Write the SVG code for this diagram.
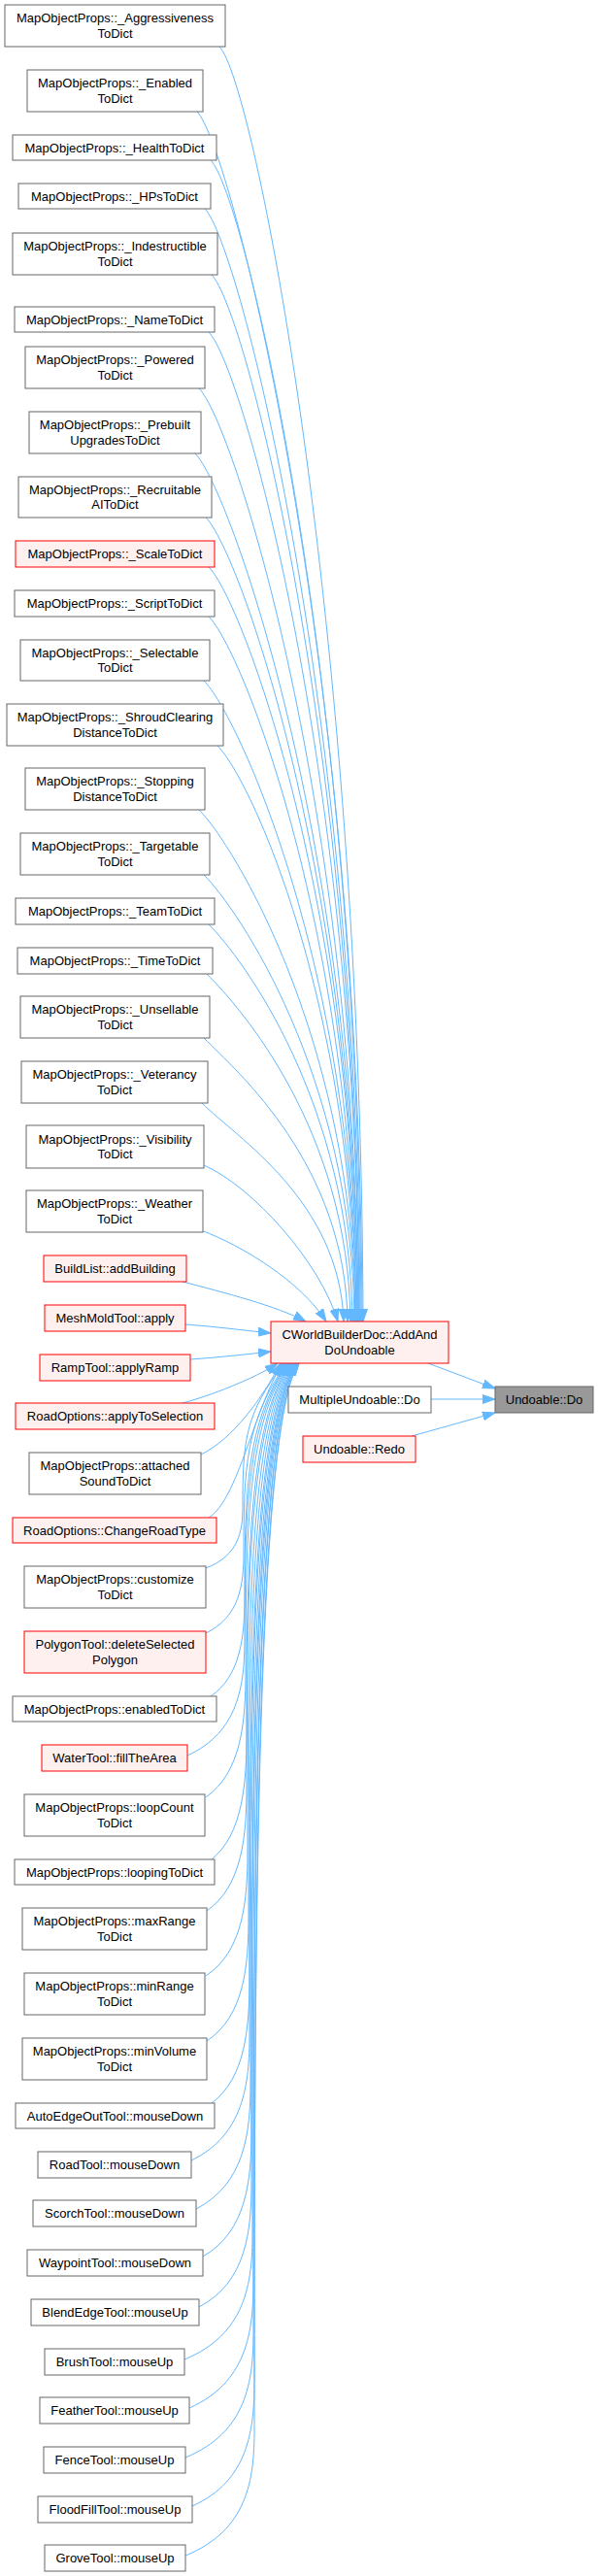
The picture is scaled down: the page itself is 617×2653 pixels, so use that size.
<svg xmlns="http://www.w3.org/2000/svg" width="617" height="2653" viewBox="0 0 617 2653">
<style>
.n rect{fill:#ffffff;stroke:#666666;stroke-width:1}
.r rect{fill:#fff0f0;stroke:#ff0000;stroke-width:1}
.g rect{fill:#999999;stroke:#666666;stroke-width:1}
text{font-family:"Liberation Sans",Arial,sans-serif;font-size:13px;fill:#000000;text-anchor:middle}
#edges path{fill:none;stroke:#63b8ff;stroke-width:1;marker-end:url(#ah)}
</style>
<defs>
<marker id="ah" markerUnits="userSpaceOnUse" markerWidth="14" markerHeight="10" refX="13" refY="5" orient="auto">
<path d="M0,0.5 L13,5 L0,9.5 z" fill="#63b8ff" stroke="#63b8ff" stroke-width="1"/>
</marker>
</defs>
<rect width="617" height="2653" fill="#ffffff"/>
<g id="edges">
<path d="M226,48 C261,83 372,639 374,1361"/>
<path d="M203,115 C238,150 371,676 373,1361"/>
<path d="M217,165 C252,200 370,703 372,1361"/>
<path d="M211,215 C246,250 369,731 371,1361"/>
<path d="M218,283 C253,318 368,768 370,1361"/>
<path d="M215,342 C250,377 368,801 370,1361"/>
<path d="M205,400 C240,435 367,832 369,1361"/>
<path d="M201,467 C236,502 367,869 369,1361"/>
<path d="M212,533 C247,568 366,906 368,1361"/>
<path d="M215,584 C250,619 366,934 368,1361"/>
<path d="M215,635 C250,670 365,962 367,1361"/>
<path d="M210,701 C245,736 365,998 367,1361"/>
<path d="M224,768 C259,803 364,1035 366,1361"/>
<path d="M205,834 C240,869 364,1071 366,1361"/>
<path d="M210,901 C245,936 363,1108 365,1361"/>
<path d="M215,952 C250,987 361,1136 363,1361"/>
<path d="M213,1003 C248,1038 359,1164 361,1361"/>
<path d="M210,1069 C245,1104 356,1200 358,1361"/>
<path d="M208,1136 C243,1171 350,1237 354,1361"/>
<path d="M210,1200 C260,1222 330,1300 348,1361"/>
<path d="M207,1267 C250,1283 310,1320 336,1361"/>
<path d="M188,1320 C230,1331 285,1345 315,1361"/>
<path d="M191,1364 C220,1366 250,1370 279,1373"/>
<path d="M196,1400 C225,1398 252,1395 279,1392"/>
<path d="M188,1445 C215,1438 262,1420 286,1404"/>
<path d="M207,1498 C240,1482 270,1440 289,1404"/>
<path d="M215,1563 C245,1545 262,1450 291,1404"/>
<path d="M212,1615 C246,1602 250,1577 250,1552 C250,1485 252,1456 293,1404"/>
<path d="M212,1682 C247,1665 251,1632 251,1599 C251,1511 253,1464 295,1404"/>
<path d="M217,1747 C248,1726 252,1685 252,1644 C252,1536 254,1464 296,1404"/>
<path d="M193,1808 C246,1784 252,1735 252,1687 C252,1560 254,1464 297,1404"/>
<path d="M212,1851 C249,1825 253,1773 253,1721 C253,1578 255,1464 298,1404"/>
<path d="M218,1915 C250,1889 254,1837 254,1785 C254,1614 256,1464 299,1404"/>
<path d="M213,1968 C250,1942 254,1890 254,1838 C254,1643 256,1464 300,1404"/>
<path d="M212,2035 C251,2009 255,1957 255,1905 C255,1680 257,1464 301,1404"/>
<path d="M213,2102 C252,2076 256,2024 256,1972 C256,1716 258,1464 302,1404"/>
<path d="M218,2166 C253,2140 257,2088 257,2036 C257,1752 259,1464 303,1404"/>
<path d="M197,2225 C251,2199 257,2147 257,2095 C257,1784 259,1464 304,1404"/>
<path d="M202,2275 C252,2249 258,2197 258,2145 C258,1812 260,1464 305,1404"/>
<path d="M209,2324 C254,2298 259,2246 259,2194 C259,1838 261,1464 305,1404"/>
<path d="M205,2376 C254,2350 259,2298 259,2246 C259,1867 261,1464 306,1404"/>
<path d="M190,2430 C253,2404 260,2352 260,2300 C260,1897 262,1464 306,1404"/>
<path d="M195,2480 C254,2454 261,2402 261,2350 C261,1924 263,1464 307,1404"/>
<path d="M191,2531 C254,2505 261,2453 261,2401 C261,1952 263,1464 307,1404"/>
<path d="M198,2581 C256,2555 262,2503 262,2451 C262,1980 264,1464 308,1404"/>
<path d="M191,2632 C255,2606 262,2554 262,2502 C262,2008 264,1464 308,1404"/>
<path d="M441,1404 L510,1430"/>
<path d="M444,1441 L510,1441"/>
<path d="M424,1479 L510,1455"/>
</g>
<g id="node1" class="n"><rect x="5" y="5" width="227" height="43"/><text x="118.5" y="23">MapObjectProps::_Aggressiveness</text><text x="118.5" y="38.5">ToDict</text></g>
<g id="node2" class="n"><rect x="28" y="72" width="181" height="43"/><text x="118.5" y="90">MapObjectProps::_Enabled</text><text x="118.5" y="105.5">ToDict</text></g>
<g id="node3" class="n"><rect x="13" y="139" width="210" height="26"/><text x="118" y="156.5">MapObjectProps::_HealthToDict</text></g>
<g id="node4" class="n"><rect x="19" y="189" width="198" height="26"/><text x="118" y="206.5">MapObjectProps::_HPsToDict</text></g>
<g id="node5" class="n"><rect x="13" y="240" width="211" height="43"/><text x="118.5" y="258">MapObjectProps::_Indestructible</text><text x="118.5" y="273.5">ToDict</text></g>
<g id="node6" class="n"><rect x="15" y="316" width="206" height="26"/><text x="118" y="333.5">MapObjectProps::_NameToDict</text></g>
<g id="node7" class="n"><rect x="26" y="357" width="185" height="43"/><text x="118.5" y="375">MapObjectProps::_Powered</text><text x="118.5" y="390.5">ToDict</text></g>
<g id="node8" class="n"><rect x="30" y="424" width="177" height="43"/><text x="118.5" y="442">MapObjectProps::_Prebuilt</text><text x="118.5" y="457.5">UpgradesToDict</text></g>
<g id="node9" class="n"><rect x="19" y="491" width="199" height="42"/><text x="118.5" y="508.5">MapObjectProps::_Recruitable</text><text x="118.5" y="524">AIToDict</text></g>
<g id="node10" class="r"><rect x="16" y="557" width="205" height="27"/><text x="118.5" y="575">MapObjectProps::_ScaleToDict</text></g>
<g id="node11" class="n"><rect x="15" y="608" width="206" height="27"/><text x="118" y="626">MapObjectProps::_ScriptToDict</text></g>
<g id="node12" class="n"><rect x="21" y="659" width="195" height="42"/><text x="118.5" y="676.5">MapObjectProps::_Selectable</text><text x="118.5" y="692">ToDict</text></g>
<g id="node13" class="n"><rect x="7" y="725" width="223" height="43"/><text x="118.5" y="743">MapObjectProps::_ShroudClearing</text><text x="118.5" y="758.5">DistanceToDict</text></g>
<g id="node14" class="n"><rect x="26" y="791" width="185" height="43"/><text x="118.5" y="809">MapObjectProps::_Stopping</text><text x="118.5" y="824.5">DistanceToDict</text></g>
<g id="node15" class="n"><rect x="21" y="858" width="195" height="43"/><text x="118.5" y="876">MapObjectProps::_Targetable</text><text x="118.5" y="891.5">ToDict</text></g>
<g id="node16" class="n"><rect x="16" y="925" width="205" height="27"/><text x="118.5" y="943">MapObjectProps::_TeamToDict</text></g>
<g id="node17" class="n"><rect x="18" y="976" width="201" height="27"/><text x="118.5" y="994">MapObjectProps::_TimeToDict</text></g>
<g id="node18" class="n"><rect x="21" y="1026" width="195" height="43"/><text x="118.5" y="1044">MapObjectProps::_Unsellable</text><text x="118.5" y="1059.5">ToDict</text></g>
<g id="node19" class="n"><rect x="22" y="1093" width="192" height="43"/><text x="118" y="1111">MapObjectProps::_Veterancy</text><text x="118" y="1126.5">ToDict</text></g>
<g id="node20" class="n"><rect x="27" y="1159" width="183" height="44"/><text x="118.5" y="1177.5">MapObjectProps::_Visibility</text><text x="118.5" y="1193">ToDict</text></g>
<g id="node21" class="n"><rect x="27" y="1226" width="182" height="43"/><text x="118" y="1244">MapObjectProps::_Weather</text><text x="118" y="1259.5">ToDict</text></g>
<g id="node22" class="r"><rect x="45" y="1293" width="147" height="27"/><text x="118.5" y="1311">BuildList::addBuilding</text></g>
<g id="node23" class="r"><rect x="46" y="1344" width="145" height="27"/><text x="118.5" y="1362">MeshMoldTool::apply</text></g>
<g id="node24" class="r"><rect x="41" y="1395" width="155" height="27"/><text x="118.5" y="1413">RampTool::applyRamp</text></g>
<g id="node25" class="r"><rect x="16" y="1445" width="205" height="27"/><text x="118.5" y="1463">RoadOptions::applyToSelection</text></g>
<g id="node26" class="n"><rect x="30" y="1496" width="177" height="43"/><text x="118.5" y="1514">MapObjectProps::attached</text><text x="118.5" y="1529.5">SoundToDict</text></g>
<g id="node27" class="r"><rect x="13" y="1563" width="210" height="26"/><text x="118" y="1580.5">RoadOptions::ChangeRoadType</text></g>
<g id="node28" class="n"><rect x="25" y="1613" width="187" height="43"/><text x="118.5" y="1631">MapObjectProps::customize</text><text x="118.5" y="1646.5">ToDict</text></g>
<g id="node29" class="r"><rect x="25" y="1680" width="187" height="43"/><text x="118.5" y="1698">PolygonTool::deleteSelected</text><text x="118.5" y="1713.5">Polygon</text></g>
<g id="node30" class="n"><rect x="13" y="1747" width="210" height="26"/><text x="118" y="1764.5">MapObjectProps::enabledToDict</text></g>
<g id="node31" class="r"><rect x="43" y="1797" width="150" height="27"/><text x="118" y="1815">WaterTool::fillTheArea</text></g>
<g id="node32" class="n"><rect x="25" y="1848" width="186" height="43"/><text x="118" y="1866">MapObjectProps::loopCount</text><text x="118" y="1881.5">ToDict</text></g>
<g id="node33" class="n"><rect x="15" y="1915" width="206" height="26"/><text x="118" y="1932.5">MapObjectProps::loopingToDict</text></g>
<g id="node34" class="n"><rect x="23" y="1965" width="190" height="43"/><text x="118" y="1983">MapObjectProps::maxRange</text><text x="118" y="1998.5">ToDict</text></g>
<g id="node35" class="n"><rect x="25" y="2032" width="186" height="43"/><text x="118" y="2050">MapObjectProps::minRange</text><text x="118" y="2065.5">ToDict</text></g>
<g id="node36" class="n"><rect x="23" y="2099" width="190" height="43"/><text x="118" y="2117">MapObjectProps::minVolume</text><text x="118" y="2132.5">ToDict</text></g>
<g id="node37" class="n"><rect x="16" y="2166" width="205" height="26"/><text x="118.5" y="2183.5">AutoEdgeOutTool::mouseDown</text></g>
<g id="node38" class="n"><rect x="39" y="2216" width="158" height="27"/><text x="118" y="2234">RoadTool::mouseDown</text></g>
<g id="node39" class="n"><rect x="34" y="2266" width="168" height="27"/><text x="118" y="2284">ScorchTool::mouseDown</text></g>
<g id="node40" class="n"><rect x="28" y="2317" width="181" height="27"/><text x="118.5" y="2335">WaypointTool::mouseDown</text></g>
<g id="node41" class="n"><rect x="32" y="2368" width="173" height="27"/><text x="118.5" y="2386">BlendEdgeTool::mouseUp</text></g>
<g id="node42" class="n"><rect x="46" y="2419" width="144" height="27"/><text x="118" y="2437">BrushTool::mouseUp</text></g>
<g id="node43" class="n"><rect x="41" y="2469" width="154" height="27"/><text x="118" y="2487">FeatherTool::mouseUp</text></g>
<g id="node44" class="n"><rect x="45" y="2520" width="146" height="27"/><text x="118" y="2538">FenceTool::mouseUp</text></g>
<g id="node45" class="n"><rect x="39" y="2571" width="159" height="27"/><text x="118.5" y="2589">FloodFillTool::mouseUp</text></g>
<g id="node46" class="n"><rect x="46" y="2621" width="145" height="27"/><text x="118.5" y="2639">GroveTool::mouseUp</text></g>
<g id="node47" class="r"><rect x="279" y="1361" width="183" height="43"/><text x="370.5" y="1379">CWorldBuilderDoc::AddAnd</text><text x="370.5" y="1394.5">DoUndoable</text></g>
<g id="node48" class="n"><rect x="297" y="1428" width="147" height="27"/><text x="370.5" y="1446">MultipleUndoable::Do</text></g>
<g id="node49" class="r"><rect x="312" y="1479" width="116" height="27"/><text x="370" y="1497">Undoable::Redo</text></g>
<g id="node50" class="g"><rect x="510" y="1428" width="101" height="27"/><text x="560.5" y="1446">Undoable::Do</text></g>
</svg>
